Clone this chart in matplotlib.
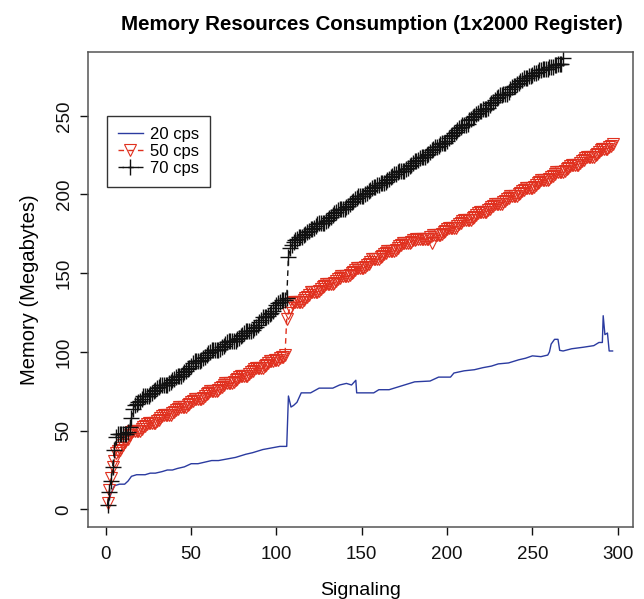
import numpy as np
import matplotlib

matplotlib.use('Agg')
import matplotlib.pyplot as plt

plt.rcParams['font.family'] = ['Liberation Sans', 'DejaVu Sans']

# 20 cps: line only, read at key points
blue_x = [1, 3, 5, 8, 11, 13, 15, 18, 23, 26, 29, 33, 36, 39, 42, 46, 50, 54, 58, 62,
          66, 71, 76, 82, 86, 92, 97, 102, 106, 107, 108.5, 110, 112, 114.5, 120, 125,
          133, 137, 141, 144, 146.5, 147, 157, 160, 166, 172, 181, 190, 195, 202, 204,
          210, 216, 221, 226, 230, 236, 242, 246, 250, 255, 259, 260, 261, 263, 265,
          266, 268, 273, 280, 286, 289, 291, 291.5, 292.5, 294, 295, 297]
blue_y = [3, 10, 15, 16, 16, 18, 21, 22, 22, 23, 23, 24, 25, 25, 26, 27, 29, 29, 30, 31,
          31, 32, 33, 35, 36, 38, 39, 40, 40, 72, 65, 66, 68, 74, 74, 77,
          77, 79, 80, 79, 82, 74, 74, 76, 76, 78, 81, 81.5, 84, 84, 86.6,
          88, 88.7, 90, 91, 92.4, 93, 95, 96, 97.5, 97, 98, 100, 105, 108, 108,
          101, 100.6, 102, 103, 104, 106, 106, 123, 111, 112, 100.6, 100.6]

# 50 cps: one value per signaling, x = 1..297
red_y = [4, 12, 20, 27, 31, 36, 37, 38, 39, 41, 43, 44, 45, 47, 49,
         50, 50, 50, 50, 50, 51, 52, 53, 54,
         55, 55, 55, 55, 55, 56, 57, 58, 59,
         60, 60, 60, 60, 60, 61, 62, 63, 64,
         65, 65, 65, 65, 65, 66, 67, 68, 69,
         70, 70, 70, 70, 70, 71, 72, 73, 74,
         75, 75, 75, 75, 75, 76, 77, 78, 79,
         80, 80, 80, 80, 80, 81, 82, 83, 84,
         85, 85, 85, 85, 85, 86, 87, 88, 89,
         90, 90, 90, 90, 90, 91, 92, 93, 94,
         94, 94, 95, 95, 95, 96, 97, 97, 98,
         121, 125, 128, 131, 132,
         132, 132, 132, 132, 132, 133, 134, 135, 136,
         138, 138, 138, 138, 138, 139, 140, 141, 142,
         143, 143, 143, 143, 143, 144, 145, 146, 147,
         148, 148, 148, 148, 148, 149, 150, 151, 152,
         153, 153, 153, 153, 153, 154, 155, 156, 157,
         159, 159, 159, 159, 159, 160, 161, 162, 163,
         164, 164, 164, 164, 164, 165, 166, 167, 168,
         169, 169, 169, 169, 169, 170, 171, 171, 172,
         172, 172, 172, 172, 172, 172, 172, 173, 169,
         174, 174, 174, 174, 174, 175, 176, 177, 178,
         179, 179, 179, 179, 179, 180, 181, 182, 183,
         184, 184, 184, 184, 184, 185, 186, 187, 188,
         189, 189, 189, 189, 189, 190, 191, 192, 193,
         194, 194, 194, 194, 194, 195, 196, 197, 198,
         199, 199, 199, 199, 199, 200, 201, 202, 203,
         204, 204, 204, 204, 204, 205, 206, 207, 208,
         209, 209, 209, 209, 209, 210, 211, 212, 213,
         214, 214, 214, 214, 214, 215, 216, 217, 218,
         219, 219, 219, 219, 219, 220, 221, 222, 223,
         224, 224, 224, 224, 224, 225, 226, 227, 228,
         229, 229, 229, 229, 230, 231, 232]

# 70 cps: one value per signaling, x = 1..268
black_y = [3, 11, 18, 27, 38, 46, 48, 48, 48, 48, 48, 48, 49, 52, 58,
           64, 66, 67, 68, 69, 70,
           72, 72, 72, 72, 73, 74, 75, 76, 77, 78,
           79, 79, 79, 79, 79, 80, 81, 82, 83, 84,
           85, 85, 85, 86, 87, 88, 89, 90, 91, 93,
           94, 94, 94, 94, 95, 96, 97, 98, 99, 100,
           101, 101, 101, 101, 101, 102, 103, 104, 105, 106,
           107, 107, 107, 107, 107, 108, 109, 110, 111, 112,
           113, 113, 113, 113, 114, 115, 116, 117, 119, 120,
           122, 122, 122, 123, 124, 125, 126, 128, 130, 131,
           132, 133, 133, 133, 134,
           160, 166, 168, 170, 171, 172,
           173, 173, 173, 174, 175, 176, 177, 178, 178, 179, 180, 181,
           182, 182, 182, 182, 183, 184, 185, 186, 187, 188, 189, 190,
           191, 191, 191, 191, 192, 193, 194, 195, 196, 197, 198, 199,
           199, 199, 199, 200, 201, 202, 203, 204, 205, 205, 206, 206,
           207, 207, 207, 208, 209, 210, 211, 212, 213, 213, 214, 215,
           215, 215, 215, 216, 217, 218, 219, 220, 221, 221, 222, 223,
           224, 224, 224, 225, 226, 227, 228, 229, 230, 230, 231, 232,
           233, 233, 233, 234, 236, 237, 238, 239, 240, 241, 242, 243,
           244, 244, 244, 245, 247, 248, 249, 250, 251, 252, 253, 253,
           254, 254, 254, 255, 257, 258, 259, 260, 261, 262, 263, 263,
           264, 264, 264, 265, 267, 268, 269, 269, 270, 271, 272, 273,
           274, 274, 274, 275, 275, 276, 277, 277, 278, 279, 279, 280,
           280, 280, 280, 281, 281, 281, 282, 282, 283, 283, 283, 287]

red_x = np.arange(1, len(red_y) + 1)
black_x = np.arange(1, len(black_y) + 1)

xticks = [0, 50, 100, 150, 200, 250, 300]
yticks = [0, 50, 100, 150, 200, 250]

fig = plt.figure(figsize=(6.44, 5.99), dpi=100)
ax = fig.add_axes([0.1366, 0.1202, 0.8464, 0.793])

ax.plot(blue_x, blue_y, color='#2b3ba0', lw=1.0, label='20 cps')
ax.plot(red_x, red_y, color='#e0301e', lw=1.0, ls=(0, (4, 3)), marker='v', ms=9,
        mfc='none', mec='#e0301e', mew=0.8, label='50 cps')
ax.plot(black_x, black_y, color='#111111', lw=1.0, ls=(0, (4, 3)), marker='+', ms=11,
        mew=1.0, label='70 cps')

ax.set_xlim(-10.5, 309)
ax.set_ylim(-11.2, 290.5)
ax.set_xticks(xticks)
ax.set_yticks(yticks)
ax.set_yticklabels([str(v) for v in yticks], rotation=90, va='center')
ax.tick_params(direction='out', length=6, width=1, labelsize=13.5, colors='#111111')
ax.tick_params(axis='x', pad=8)
ax.tick_params(axis='y', pad=5)
for s in ax.spines.values():
    s.set_color('#555555')
    s.set_linewidth(1.1)

ax.set_xlabel('Signaling', fontsize=14, labelpad=13)
ax.set_ylabel('Memory (Megabytes)', fontsize=14.5, labelpad=12)
ax.set_title('Memory Resources Consumption (1x2000 Register)', fontsize=14.8,
             fontweight='bold', pad=16, x=0.52)

leg = ax.legend(loc='upper left', bbox_to_anchor=(0.035, 0.865), fontsize=12,
                frameon=True, fancybox=False, edgecolor='#333333', framealpha=1,
                handlelength=1.5, handletextpad=0.45, borderpad=0.65, labelspacing=0.12,
                borderaxespad=0)
leg.get_frame().set_linewidth(1.0)

plt.savefig('out.png', dpi=100)
